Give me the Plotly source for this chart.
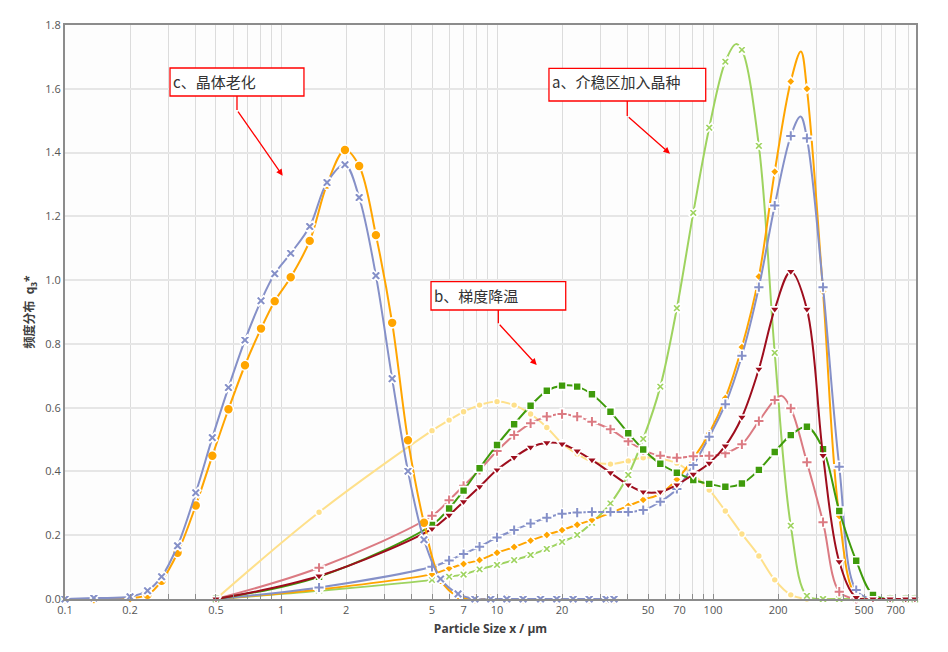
import math
import plotly.graph_objects as go

###############################################################################
# Data (particle size x in µm, frequency q3*)
###############################################################################
# c: crystal aging, finer size grid
X_AGING = [0.1, 0.136, 0.2, 0.241, 0.28, 0.332, 0.403, 0.481, 0.571, 0.681,
           0.808, 0.935, 1.109, 1.358, 1.633, 1.977, 2.3, 2.75, 3.27, 3.87,
           4.59, 5.48, 6.6, 7.9, 9.35, 11.1, 13.2, 15.9, 18.9, 22.5, 26.7,
           32, 34.8]
AGING_BLUE = [0, 0.003, 0.007, 0.026, 0.07, 0.167, 0.333, 0.506, 0.663, 0.812,
              0.935, 1.020, 1.084, 1.168, 1.306, 1.362, 1.259, 1.014, 0.691,
              0.401, 0.186, 0.063, 0.016, 0, 0, 0, 0, 0, 0, 0, 0, 0, 0]
AGING_ORANGE = [0, 0, 0.003, 0.013, 0.057, 0.145, 0.293, 0.449, 0.595, 0.733,
                0.848, 0.934, 1.009, 1.123, 1.30, 1.408, 1.358, 1.141, 0.866,
                0.498, 0.239, 0.06, 0.008, 0, 0, 0, 0, 0, 0, 0, 0, 0, 0]

# a: seeding in metastable zone, b: gradient cooling (shared size grid)
X_MAIN = [0.5, 1.5, 5, 6, 7, 8.3, 10, 12, 14.3, 17, 20, 23.5, 27.5, 33.5, 40.5,
          47.5, 57, 68, 81, 96, 114, 136, 163, 193, 229, 272, 323, 384, 460,
          550, 660, 780, 860]
SEED_GREEN = [0, 0.026, 0.06, 0.07, 0.077, 0.093, 0.107, 0.122, 0.138, 0.157,
              0.179, 0.201, 0.239, 0.300, 0.389, 0.502, 0.666, 0.912, 1.211,
              1.478, 1.685, 1.722, 1.421, 0.772, 0.23, 0.01, 0, 0, 0, 0, 0, 0, 0]
SEED_ORANGE = [0, 0.03, 0.078, 0.096, 0.11, 0.122, 0.145, 0.163, 0.183, 0.201,
               0.216, 0.233, 0.248, 0.27, 0.292, 0.311, 0.33, 0.375, 0.44, 0.52,
               0.63, 0.79, 1.011, 1.34, 1.623, 1.60, 0.964, 0.26, 0.01, 0, 0, 0, 0]
SEED_BLUE = [0, 0.036, 0.101, 0.121, 0.141, 0.164, 0.193, 0.216, 0.237, 0.255,
             0.267, 0.271, 0.273, 0.273, 0.273, 0.279, 0.305, 0.345, 0.42, 0.509,
             0.611, 0.763, 0.978, 1.234, 1.452, 1.445, 0.978, 0.415, 0.028, 0,
             0, 0, 0]
COOL_YELLOW = [0, 0.272, 0.528, 0.561, 0.587, 0.608, 0.619, 0.608, 0.580, 0.538,
               0.488, 0.455, 0.431, 0.423, 0.433, 0.443, 0.44, 0.426, 0.39,
               0.342, 0.276, 0.204, 0.135, 0.06, 0.013, 0, 0, 0, 0, 0, 0, 0, 0]
COOL_GREEN = [0, 0.07, 0.232, 0.284, 0.34, 0.41, 0.483, 0.548, 0.606, 0.653,
              0.669, 0.666, 0.642, 0.587, 0.520, 0.469, 0.424, 0.396, 0.373,
              0.361, 0.352, 0.362, 0.405, 0.461, 0.514, 0.540, 0.470, 0.276,
              0.120, 0.013, 0, 0, 0]
COOL_PINK = [0, 0.098, 0.261, 0.31, 0.355, 0.405, 0.464, 0.514, 0.551, 0.572,
             0.580, 0.572, 0.556, 0.532, 0.495, 0.467, 0.449, 0.443, 0.448,
             0.449, 0.457, 0.485, 0.558, 0.624, 0.598, 0.429, 0.241, 0.023, 0,
             0, 0, 0, 0]
COOL_RED = [0, 0.072, 0.22, 0.263, 0.305, 0.352, 0.405, 0.444, 0.476, 0.49,
            0.486, 0.464, 0.436, 0.396, 0.358, 0.336, 0.336, 0.358, 0.391, 0.426,
            0.480, 0.570, 0.721, 0.909, 1.027, 0.909, 0.45, 0.117, 0.005, 0, 0,
            0, 0]

# curve apexes that fall between two markers
APEX_SEED_GREEN = (127.6, 1.74)
APEX_SEED_ORANGE = (255, 1.717)
APEX_SEED_BLUE = (254, 1.513)
APEX_COOL_PINK = (208, 0.637)

# axis ticks / grid
X_GRID = [0.1, 0.2, 0.3, 0.4, 0.5, 0.6, 0.7, 0.8, 0.9,
          1, 2, 3, 4, 5, 6, 7, 8, 9,
          10, 20, 30, 40, 50, 60, 70, 80, 90,
          100, 200, 300, 400, 500, 600, 700, 800]
X_LABELED = [0.1, 0.2, 0.5, 1, 2, 5, 7, 10, 20, 50, 70, 100, 200, 500, 700]
X_MAX = 870

###############################################################################
# Plot
###############################################################################
SERIES = [
    # (x, y, apex, color, symbol, size)
    (X_MAIN, COOL_YELLOW, None, '#fee08b', 'circle', 7),
    (X_MAIN, SEED_GREEN, APEX_SEED_GREEN, '#9ed35f', 'x', 8),
    (X_MAIN, SEED_ORANGE, APEX_SEED_ORANGE, '#ffa500', 'diamond', 7),
    (X_MAIN, SEED_BLUE, APEX_SEED_BLUE, '#8590c8', 'cross', 9),
    (X_MAIN, COOL_PINK, APEX_COOL_PINK, '#db7a82', 'cross', 9),
    (X_MAIN, COOL_GREEN, None, '#3f9b0b', 'square', 8),
    (X_MAIN, COOL_RED, None, '#9e0d1d', 'triangle-down', 9),
    (X_AGING, AGING_ORANGE, None, '#ffa500', 'circle', 10),
    (X_AGING, AGING_BLUE, None, '#8590c8', 'x', 9),
]

fig = go.Figure()
for xs, ys, apex, col, sym, sz in SERIES:
    pts = [(x, y, 1) for x, y in zip(xs, ys)]
    if apex:
        pts = sorted(pts + [(apex[0], apex[1], 0)])  # apex: line only, no marker
    fig.add_trace(go.Scatter(
        x=[p[0] for p in pts], y=[p[1] for p in pts],
        mode='lines+markers', cliponaxis=False,
        line=dict(color=col, width=2, shape='spline', smoothing=1),
        marker=dict(symbol=sym, size=sz, color=col,
                    opacity=[p[2] for p in pts],
                    line=dict(color='white', width=1.6)),
        showlegend=False, hoverinfo='skip'
    ))

fig.update_xaxes(
    type='log', range=[-1, math.log10(X_MAX)],
    tickvals=X_GRID,
    ticktext=[(f'{v:g}' if v in X_LABELED else '') for v in X_GRID],
    ticks='inside', ticklen=5, tickcolor='#8c8c8c', tickwidth=1,
    showgrid=True, gridcolor='#dcdcdc', gridwidth=1,
    showline=True, mirror=True, linecolor='#8c8c8c', linewidth=2,
    tickfont=dict(size=11, color='#555555'),
    title=dict(text='<b>Particle Size x / µm</b>', standoff=8,
               font=dict(size=12, color='#404040')),
    zeroline=False,
)
fig.update_yaxes(
    range=[0, 1.8], dtick=0.2, tickformat='.1f',
    showgrid=True, gridcolor='#e6e6e6', gridwidth=2,
    showline=True, mirror=True, linecolor='#8c8c8c', linewidth=2,
    tickfont=dict(size=11, color='#555555'),
    title=dict(text='<b>频度分布  q<sub>3</sub>*</b>', standoff=8,
               font=dict(size=12, color='#404040')),
    zeroline=False,
)

###############################################################################
# Callout boxes (plot-area domain coordinates)
###############################################################################
CALLOUTS = [
    # text, box x0, x1, y0, y1, leader x, leader bottom y, arrow head x, y
    ('c、晶体老化', 0.1234, 0.2808, 0.8763, 0.9251, 0.2021, 0.8519, 0.2558, 0.7375),
    ('a、介稳区加入晶种', 0.5687, 0.7529, 0.8676, 0.9246, 0.6607, 0.8415, 0.7109, 0.7758),
    ('b、梯度降温', 0.4301, 0.5884, 0.5035, 0.5528, 0.5092, 0.4803, 0.5543, 0.4077),
]
for txt, x0, x1, y0, y1, lx, ly, hx, hy in CALLOUTS:
    fig.add_shape(type='rect', xref='paper', yref='paper',
                  x0=x0, x1=x1, y0=y0, y1=y1,
                  line=dict(color='#ff0000', width=1.3), fillcolor='white')
    fig.add_shape(type='line', xref='paper', yref='paper',
                  x0=lx, x1=lx, y0=y0, y1=ly,
                  line=dict(color='#ff0000', width=1.3))
    fig.add_annotation(xref='paper', yref='paper', x=x0 + 0.001, y=y1,
                       xanchor='left', yanchor='top', showarrow=False,
                       text=txt, yshift=-1,
                       font=dict(family='Noto Sans CJK SC', size=15, color='#333333'))
    fig.add_annotation(xref='x domain', yref='y domain', x=hx, y=hy,
                       axref='x domain', ayref='y domain', ax=lx, ay=ly, text='',
                       showarrow=True, arrowhead=2, arrowsize=1, arrowwidth=1.3,
                       arrowcolor='#ff0000')

# page body adds an 8px offset, so the figure is 8px smaller on each side
fig.update_layout(
    width=940, height=644,
    margin=dict(l=57, r=32, t=17, b=53, autoexpand=False),
    paper_bgcolor='#ffffff', plot_bgcolor='#fdfdfd',
    font=dict(family='Open Sans, Noto Sans CJK SC'),
)
fig.write_html('out.html')
